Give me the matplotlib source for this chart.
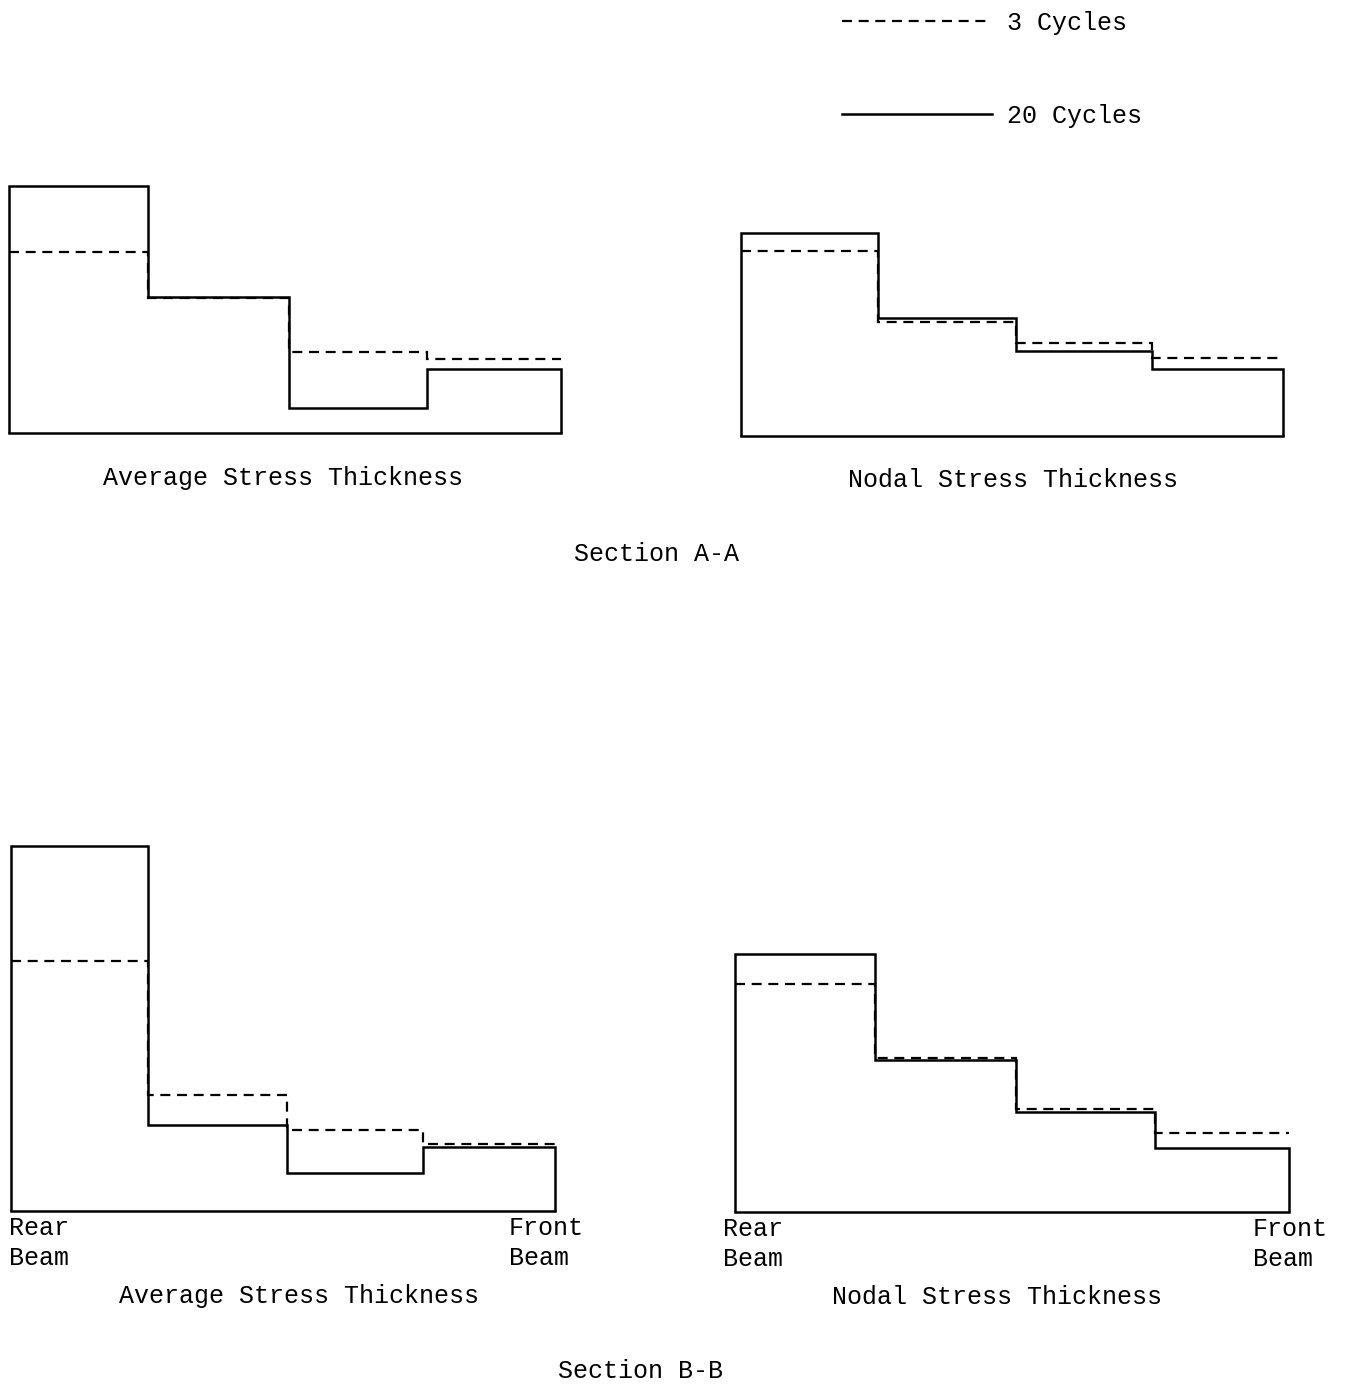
import numpy as np
import matplotlib
matplotlib.use("Agg")
import matplotlib.pyplot as plt
from matplotlib.lines import Line2D

""" Data (relative thickness per bay, rear beam -> front beam) """

bays = [0, 1.01, 2.03, 3.03, 4]  # bay edges (chordwise stations)

avg_a_20 = [247, 136, 25, 64]
avg_a_3 = [181, 135, 81, 74]
nod_a_20 = [203, 118, 85, 67]
nod_a_3 = [185, 114, 93, 78]

avg_b_20 = [365, 86, 38, 64]
avg_b_3 = [250, 116, 81, 67]
nod_b_20 = [258, 152, 100, 64]
nod_b_3 = [228, 154, 103, 79]

W, H = 1348, 1385
font = "Liberation Mono"
fs = 18

fig = plt.figure(figsize=(W / 100, H / 100), dpi=100)


def panel(x0, x1, yb, solid, dashed):
    ax = fig.add_axes([x0 / W, 1 - yb / H, (x1 - x0) / W, 400 / H])
    ax.set_xlim(bays[0], bays[-1])
    ax.set_ylim(0, 400)
    ax.axis("off")
    s = ax.stairs(solid, bays, baseline=0, color="black", lw=1.8)
    s.set_clip_on(False)
    d = ax.stairs(dashed, bays, baseline=None, color="black", lw=1.6,
                  linestyle=(0, (4.5, 3)))
    d.set_clip_on(False)
    ax.axhline(0, color="black", lw=1.8, clip_on=False)
    return ax


panel(9, 561, 433, avg_a_20, avg_a_3)
panel(741, 1283, 436, nod_a_20, nod_a_3)
panel(11, 555, 1211, avg_b_20, avg_b_3)
panel(735, 1289, 1212, nod_b_20, nod_b_3)


def label(x, y, txt, ha="center", va="center"):
    fig.text(x / W, 1 - y / H, txt, ha=ha, va=va,
             family=font, fontsize=fs, linespacing=1.32)


label(283, 478, "Average Stress Thickness")
label(1013, 480, "Nodal Stress Thickness")
label(656, 554, "Section A-A")
label(299, 1296, "Average Stress Thickness")
label(997, 1297, "Nodal Stress Thickness")
label(641, 1371, "Section B-B")

label(9, 1216, "Rear\nBeam", ha="left", va="top")
label(509, 1216, "Front\nBeam", ha="left", va="top")
label(723, 1217, "Rear\nBeam", ha="left", va="top")
label(1253, 1217, "Front\nBeam", ha="left", va="top")

handles = [
    Line2D([], [], color="black", lw=1.6, linestyle=(0, (4.5, 3))),
    Line2D([], [], color="black", lw=1.8),
]
fig.legend(handles, ["3 Cycles", "20 Cycles"], loc="upper left",
           bbox_to_anchor=(842 / W, 1 - 11 / H), frameon=False,
           borderpad=0, borderaxespad=0, handlelength=6.0,
           handletextpad=0.6, labelspacing=2.75,
           prop={"family": font, "size": fs})

fig.savefig("out.png", dpi=100, facecolor="white")
